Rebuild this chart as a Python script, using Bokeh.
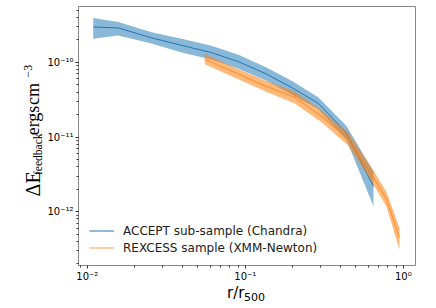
import numpy as np
from bokeh.plotting import figure
from bokeh.layouts import row, column
from bokeh.models import (ColumnDataSource, Legend, LegendItem, FixedTicker,
                          CustomJSTickFormatter, Range1d)
from bokeh.embed import file_html
from bokeh.resources import INLINE
from bokeh.core.properties import value

# ACCEPT sub-sample (Chandra)
accept_r = [0.0109, 0.0157, 0.0255, 0.0395, 0.0611, 0.0906, 0.1362, 0.1989, 0.2905, 0.4369, 0.6476]
accept_mid = [2.98e-10, 2.89e-10, 2.13e-10, 1.69e-10, 1.35e-10, 1.02e-10, 6.98e-11, 4.53e-11, 2.82e-11, 1.13e-11, 2.18e-12]
accept_hi = [3.92e-10, 3.47e-10, 2.54e-10, 2.07e-10, 1.67e-10, 1.26e-10, 8.5e-11, 5.6e-11, 3.39e-11, 1.40e-11, 3.44e-12]
accept_lo = [2.07e-10, 2.29e-10, 1.79e-10, 1.35e-10, 1.09e-10, 8.2e-11, 5.69e-11, 3.66e-11, 2.35e-11, 9.1e-12, 1.18e-12]

# REXCESS sample (XMM-Newton)
rexcess_r = [0.0554, 0.0854, 0.1322, 0.2057, 0.3036, 0.4480, 0.6476, 0.7826, 0.9461]
rexcess_mid = [1.10e-10, 7.33e-11, 4.89e-11, 3.39e-11, 1.90e-11, 9.42e-12, 2.86e-12, 1.47e-12, 4.46e-13]
rexcess_hi = [1.30e-10, 8.53e-11, 5.78e-11, 4.06e-11, 2.28e-11, 1.15e-11, 3.55e-12, 1.84e-12, 6.04e-13]
rexcess_lo = [9.4e-11, 6.29e-11, 4.13e-11, 2.82e-11, 1.58e-11, 7.71e-12, 2.31e-12, 1.16e-12, 3.09e-13]

x_ticks = [0.01, 0.1, 1.0]
y_ticks = [1e-12, 1e-11, 1e-10]
legend_labels = ["ACCEPT sub-sample (Chandra)", "REXCESS sample (XMM-Newton)"]

BLUE = "#1f77b4"
ORANGE = "#ff7f0e"
SPINE = "#888888"

LEFT_W = 44
TOP_H = 284

p = figure(width=436 - LEFT_W, height=TOP_H, x_axis_type="log", y_axis_type="log",
           x_range=Range1d(0.008795, 1.1945), y_range=Range1d(1.90e-13, 5.6e-10),
           output_backend="svg", toolbar_location=None,
           min_border_left=34, min_border_right=21, min_border_top=6, min_border_bottom=16)
p.background_fill_color = "white"
p.border_fill_color = "white"
p.outline_line_color = SPINE
p.outline_line_width = 1
p.xgrid.visible = False
p.ygrid.visible = False

src_a = ColumnDataSource(dict(r=accept_r, mid=accept_mid, hi=accept_hi, lo=accept_lo))
src_r = ColumnDataSource(dict(r=rexcess_r, mid=rexcess_mid, hi=rexcess_hi, lo=rexcess_lo))

p.varea(x="r", y1="lo", y2="hi", source=src_a, fill_color=BLUE, fill_alpha=0.52)
la = p.line(x="r", y="mid", source=src_a, line_color=BLUE, line_width=1)
p.varea(x="r", y1="lo", y2="hi", source=src_r, fill_color=ORANGE, fill_alpha=0.55)
lr = p.line(x="r", y="mid", source=src_r, line_color=ORANGE, line_width=1.3, line_alpha=0.6)

fmt_code = """
const sup = {"-": "\u207b", "0": "\u2070", "1": "\u00b9", "2": "\u00b2", "3": "\u00b3",
             "4": "\u2074", "5": "\u2075", "6": "\u2076", "7": "\u2077", "8": "\u2078", "9": "\u2079"};
const e = Math.round(Math.log10(tick));
return "10" + String(e).split("").map(c => sup[c]).join("");
"""

def minor_for(lo_exp, hi_exp):
    out = []
    for e in range(lo_exp, hi_exp + 1):
        for m in range(1, 10):
            out.append(m * 10.0 ** e)
    return out

for ax, ticks, mn in ((p.xaxis[0], x_ticks, minor_for(-3, 0)), (p.yaxis[0], y_ticks, minor_for(-14, -9))):
    ax.ticker = FixedTicker(ticks=ticks, minor_ticks=mn)
    ax.formatter = CustomJSTickFormatter(code=fmt_code)
    ax.axis_line_color = SPINE
    ax.major_tick_line_color = "#333333"
    ax.minor_tick_line_color = "#333333"
    ax.major_tick_out = 3
    ax.major_tick_in = 0
    ax.minor_tick_out = 2
    ax.minor_tick_in = 0
    ax.major_label_text_font = "DejaVu Sans"
    ax.major_label_text_font_size = "10px"
    ax.major_label_text_color = "black"
p.yaxis[0].major_label_standoff = 2
p.xaxis[0].major_label_standoff = 2

legend = Legend(items=[LegendItem(label=legend_labels[0], renderers=[la]),
                       LegendItem(label=legend_labels[1], renderers=[lr])],
                location=(11, 9), padding=0, margin=0, spacing=0,
                glyph_width=25, glyph_height=17, label_height=17, label_standoff=9,
                label_text_font="DejaVu Sans", label_text_font_size="12px",
                label_text_color="#222222",
                border_line_alpha=0, background_fill_alpha=0)
p.add_layout(legend, "center")


def text_panel(w, h):
    f = figure(width=w, height=h, x_range=Range1d(0, w), y_range=Range1d(0, h),
               output_backend="svg", toolbar_location=None,
               x_axis_location=None, y_axis_location=None, min_border=0)
    f.outline_line_color = None
    f.xgrid.visible = False
    f.ygrid.visible = False
    f.background_fill_color = "white"
    f.border_fill_color = "white"
    return f

# y-axis label panel (left), rotated pieces anchored at their centres
ylab = text_panel(LEFT_W, TOP_H)
SERIF = value("Liberation Serif")
ylab_text = ["\u0394E", "feedback", "ergs", "cm", "\u22123"]
ylab_x = [32, 37.5, 32.6, 32.6, 27.4]
ylab_y = [89.5, 122, 159, 188, 213]
ylab_size = ["20px", "11.5px", "18px", "18px", "12px"]
for t, xx, yy, fs in zip(ylab_text, ylab_x, ylab_y, ylab_size):
    ylab.text(x=[xx], y=[yy], text=[t], angle=np.pi / 2, text_font=SERIF,
              text_font_size=value(fs), text_color="black",
              text_align="center", text_baseline="middle")

# x-axis label panel (bottom)
xlab = text_panel(436, 308 - TOP_H)
xlab.text(x=[226.5], y=[16], text=["r/r"], text_font=value("DejaVu Sans"),
          text_font_size=value("15px"), text_color="black",
          text_align="left", text_baseline="middle")
xlab.text(x=[243.5], y=[12], text=["500"], text_font=value("DejaVu Sans"),
          text_font_size=value("11px"), text_color="black",
          text_align="left", text_baseline="middle")

layout = column(row(ylab, p, spacing=0), xlab, spacing=0)

open("out.html", "w").write(file_html(layout, INLINE))
